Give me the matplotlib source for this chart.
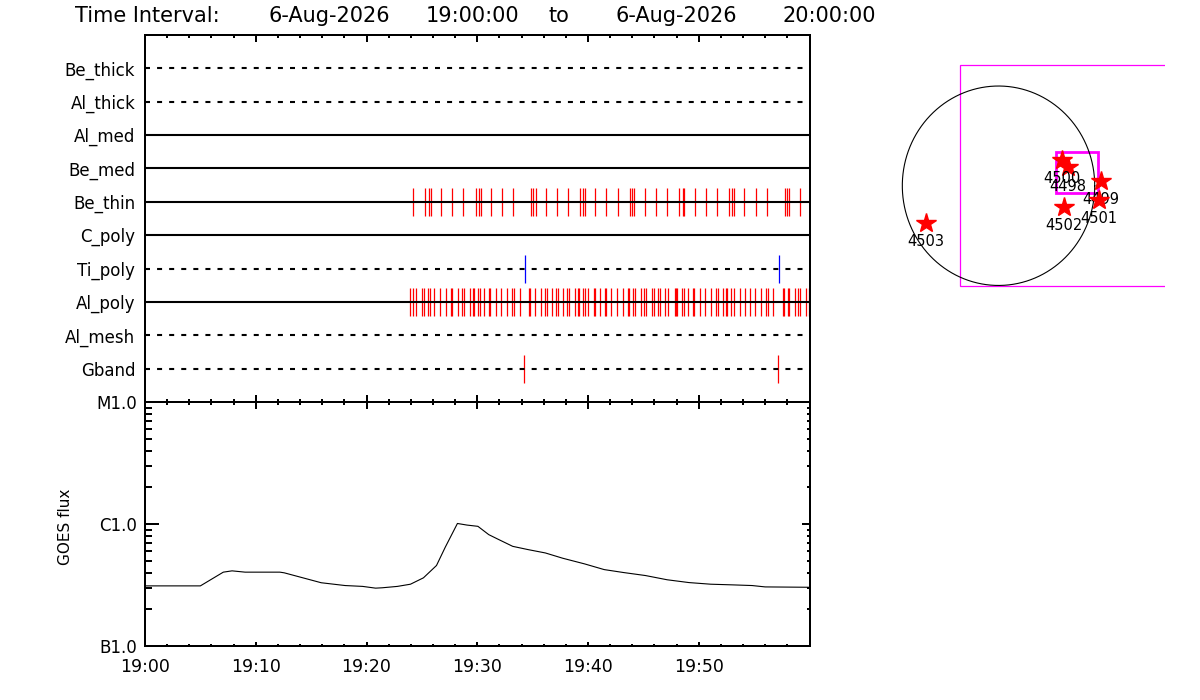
import matplotlib
matplotlib.use("Agg")
import matplotlib.pyplot as plt
import numpy as np
from matplotlib.patches import Rectangle
from matplotlib.ticker import FixedLocator, MultipleLocator, LogLocator, NullFormatter

# ---------------- data ----------------
title_words = ["Time Interval:", "6-Aug-2026", "19:00:00", "to", "6-Aug-2026", "20:00:00"]

detectors = ["Be_thick", "Al_thick", "Al_med", "Be_med", "Be_thin",
             "C_poly", "Ti_poly", "Al_poly", "Al_mesh", "Gband"]
line_styles = ["dashed", "dashed", "solid", "solid", "solid",
               "solid", "dashed", "solid", "dashed", "dashed"]

# event times, minutes after 19:00
be_thin_events = [24.21, 25.30, 25.66, 25.84, 26.74, 27.73, 28.73, 29.85, 30.17, 30.35,
                  31.25, 32.25, 33.24, 34.86, 35.05, 35.32, 36.22, 37.21, 38.20, 39.29,
                  39.53, 39.74, 40.64, 41.64, 42.72, 43.80, 43.98, 44.16, 45.15, 46.15,
                  47.17, 48.22, 48.58, 48.67, 49.67, 50.66, 51.65, 52.74, 53.00, 53.19,
                  54.09, 55.17, 56.16, 57.79, 57.97, 58.15, 59.14]
al_poly_events = [23.94, 24.22, 24.49, 25.03, 25.21, 25.57, 25.75, 26.11, 26.65, 27.19,
                  27.64, 27.72, 28.28, 28.64, 28.82, 29.36, 29.62, 29.71, 30.08, 30.26,
                  30.62, 31.06, 31.15, 31.71, 32.16, 32.70, 33.15, 33.33, 33.87, 34.68,
                  34.77, 35.23, 35.77, 36.13, 36.31, 36.76, 37.12, 37.30, 37.75, 38.11,
                  38.29, 38.84, 39.10, 39.19, 39.56, 39.74, 40.01, 40.55, 40.64, 41.09,
                  41.54, 41.63, 42.08, 42.63, 43.17, 43.61, 43.70, 44.07, 44.25, 44.79,
                  45.06, 45.24, 45.78, 45.96, 46.33, 46.51, 46.96, 47.23, 47.86, 47.95,
                  48.04, 48.49, 48.67, 49.03, 49.48, 49.57, 50.12, 50.57, 51.11, 51.56,
                  51.74, 52.19, 52.50, 52.59, 52.91, 53.18, 53.73, 54.18, 54.63, 55.08,
                  55.62, 56.08, 56.26, 56.71, 57.59, 57.68, 58.05, 58.14, 58.69, 58.96,
                  59.14, 59.68, 59.95]
ti_poly_events = [34.32, 57.25]
gband_events = [34.23, 57.16]

events = {"Be_thin": (be_thin_events, "#ff0000"),
          "Al_poly": (al_poly_events, "#ff0000"),
          "Ti_poly": (ti_poly_events, "#0000ff"),
          "Gband": (gband_events, "#ff0000")}

# GOES flux (W/m^2), minutes after 19:00
goes_time = [0, 5.0, 7.07, 7.86, 9.04, 12.18, 12.57, 15.91, 18.07, 19.65, 20.82, 21.41,
             22.79, 23.97, 25.14, 26.32, 27.11, 28.21, 29.07, 30.06, 31.04, 31.83, 33.20,
             34.58, 36.15, 37.72, 39.69, 41.46, 43.22, 45.19, 47.15, 49.12, 51.08, 53.05,
             54.82, 56.0, 59.9]
goes_flux_e7 = [3.11, 3.11, 4.03, 4.13, 4.03, 4.03, 3.98, 3.30, 3.13, 3.08, 2.98, 3.00,
                3.08, 3.21, 3.62, 4.57, 6.45, 10.1, 9.8, 9.57, 8.18, 7.54, 6.56,
                6.17, 5.79, 5.24, 4.71, 4.23, 4.00, 3.78, 3.49, 3.31, 3.21, 3.17,
                3.13, 3.05, 3.03]
goes_flux = [v * 1e-7 for v in goes_flux_e7]

time_tick_labels = ["19:00", "19:10", "19:20", "19:30", "19:40", "19:50", ""]
goes_levels = [1e-7, 1e-6, 1e-5]
goes_labels = ["B1.0", "C1.0", "M1.0"]

# solar map (arcsec)
region_ids = ["4498", "4499", "4500", "4501", "4502", "4503"]
region_x = [686, 1005, 621, 988, 647, -716]
region_y = [175, 47, 244, -136, -199, -351]
solar_radius = 946
fov_big = (-380, -950, 2100, 2100)    # x0, y0, w, h
fov_small = (562, -72, 416, 395)

# ---------------- figure ----------------
W, H = 1200, 700
fig = plt.figure(figsize=(W / 100, H / 100), dpi=100)
plt.rcParams["font.family"] = ["DejaVu Sans"]


def px_ax(x0, y0, x1, y1):
    return fig.add_axes([x0 / W, 1 - y1 / H, (x1 - x0) / W, (y1 - y0) / H])


SP = 1.44  # spine width (pt)

# title (word centres as in the reference)
title_cx = [147, 329, 472, 559, 676, 829]
for t, x in zip(title_words, title_cx):
    fig.text(x / W, 1 - 16 / H, t, fontsize=15, ha="center", va="center")

# ---- upper panel ----
ax1 = px_ax(145, 35, 809.5, 402)
n = len(detectors)
ax1.set_xlim(0, 60)
ax1.set_ylim(0, n + 1)
for i, (name, st) in enumerate(zip(detectors, line_styles)):
    y = n - i
    if st == "dashed":
        ax1.plot([0, 60], [y, y], color="k", lw=1.5, dashes=(2.4, 3.4), zorder=3,
                 solid_capstyle="butt", dash_capstyle="butt")
    else:
        ax1.plot([0, 60], [y, y], color="k", lw=1.5, zorder=3)
    if name in events:
        ev, col = events[name]
        ax1.vlines(ev, y - 0.42, y + 0.42, color=col, lw=0.9, zorder=2)

ax1.set_yticks([n - i for i in range(n)])
ax1.set_yticklabels(detectors, fontsize=12)
ax1.tick_params(axis="y", length=0, pad=7)
ax1.xaxis.set_major_locator(MultipleLocator(10))
ax1.xaxis.set_minor_locator(MultipleLocator(2))
ax1.tick_params(axis="x", which="both", direction="in", top=True, bottom=True,
                labelbottom=False, width=SP)
ax1.tick_params(axis="x", which="major", length=5)
ax1.tick_params(axis="x", which="minor", length=2.5)
for s in ax1.spines.values():
    s.set_linewidth(SP)

# ---- lower panel ----
ax2 = px_ax(145, 402, 809.5, 646)
ax2.plot(goes_time, goes_flux, color="k", lw=0.8)
ax2.set_yscale("log")
ax2.set_xlim(0, 60)
ax2.set_ylim(goes_levels[0], goes_levels[-1])
ax2.set_yticks(goes_levels)
ax2.set_yticklabels(goes_labels, fontsize=12)
ax2.yaxis.set_minor_locator(LogLocator(base=10, subs=np.arange(2, 10)))
ax2.yaxis.set_minor_formatter(NullFormatter())
ax2.tick_params(axis="y", which="both", direction="in", left=True, right=False,
                width=SP, pad=6)
ax2.tick_params(axis="y", which="major", length=10)
ax2.tick_params(axis="y", which="minor", length=5)
ax2.xaxis.set_major_locator(FixedLocator([0, 10, 20, 30, 40, 50, 60]))
ax2.set_xticklabels(time_tick_labels, fontsize=12.5)
ax2.xaxis.set_minor_locator(MultipleLocator(2))
ax2.tick_params(axis="x", which="both", direction="in", bottom=True, top=False,
                width=SP, pad=9)
ax2.tick_params(axis="x", which="major", length=3)
ax2.tick_params(axis="x", which="minor", length=1.5)
for s in ax2.spines.values():
    s.set_linewidth(SP)

sec_top = ax2.secondary_xaxis("top")
sec_top.xaxis.set_major_locator(MultipleLocator(10))
sec_top.xaxis.set_minor_locator(MultipleLocator(2))
sec_top.tick_params(axis="x", which="both", direction="in", labeltop=False, width=SP)
sec_top.tick_params(axis="x", which="major", length=5)
sec_top.tick_params(axis="x", which="minor", length=2.5)
sec_top.spines["top"].set_linewidth(SP)

sec_r = ax2.secondary_yaxis("right")
sec_r.set_yticks(goes_levels)
sec_r.yaxis.set_minor_locator(LogLocator(base=10, subs=np.arange(2, 10)))
sec_r.yaxis.set_minor_formatter(NullFormatter())
sec_r.tick_params(axis="y", which="both", direction="in", labelright=False, width=SP)
sec_r.tick_params(axis="y", which="major", length=6)
sec_r.tick_params(axis="y", which="minor", length=2)
sec_r.spines["right"].set_linewidth(SP)

fig.text(66 / W, 1 - 527 / H, "GOES flux", rotation=90, fontsize=11,
         ha="center", va="center")

# ---- solar map inset ----
ax3 = px_ax(860, 35, 1165, 300)
ax3.set_xlim(-1362, 1637)
ax3.set_ylim(-1084, 1430)
ax3.axis("off")
th = np.linspace(0, 2 * np.pi, 400)
ax3.plot(solar_radius * np.cos(th), solar_radius * np.sin(th), color="k", lw=0.8)
ax3.add_patch(Rectangle(fov_big[:2], fov_big[2], fov_big[3], fill=False,
                        edgecolor="#ff00ff", lw=0.9))
ax3.add_patch(Rectangle(fov_small[:2], fov_small[2], fov_small[3], fill=False,
                        edgecolor="#ff00ff", lw=2.0))
for k, (rid, x, y) in enumerate(zip(region_ids, region_x, region_y)):
    ax3.plot([x], [y], marker="*", ms=15, color="#ff0000", mec="#ff0000",
             ls="none", zorder=5 + 2 * k, clip_on=False)
    ax3.annotate(rid, (x, y), xytext=(0, -13.5), textcoords="offset points",
                 ha="center", va="center", fontsize=10.5, zorder=6 + 2 * k,
                 annotation_clip=False)

fig.savefig("out.png", dpi=100)
